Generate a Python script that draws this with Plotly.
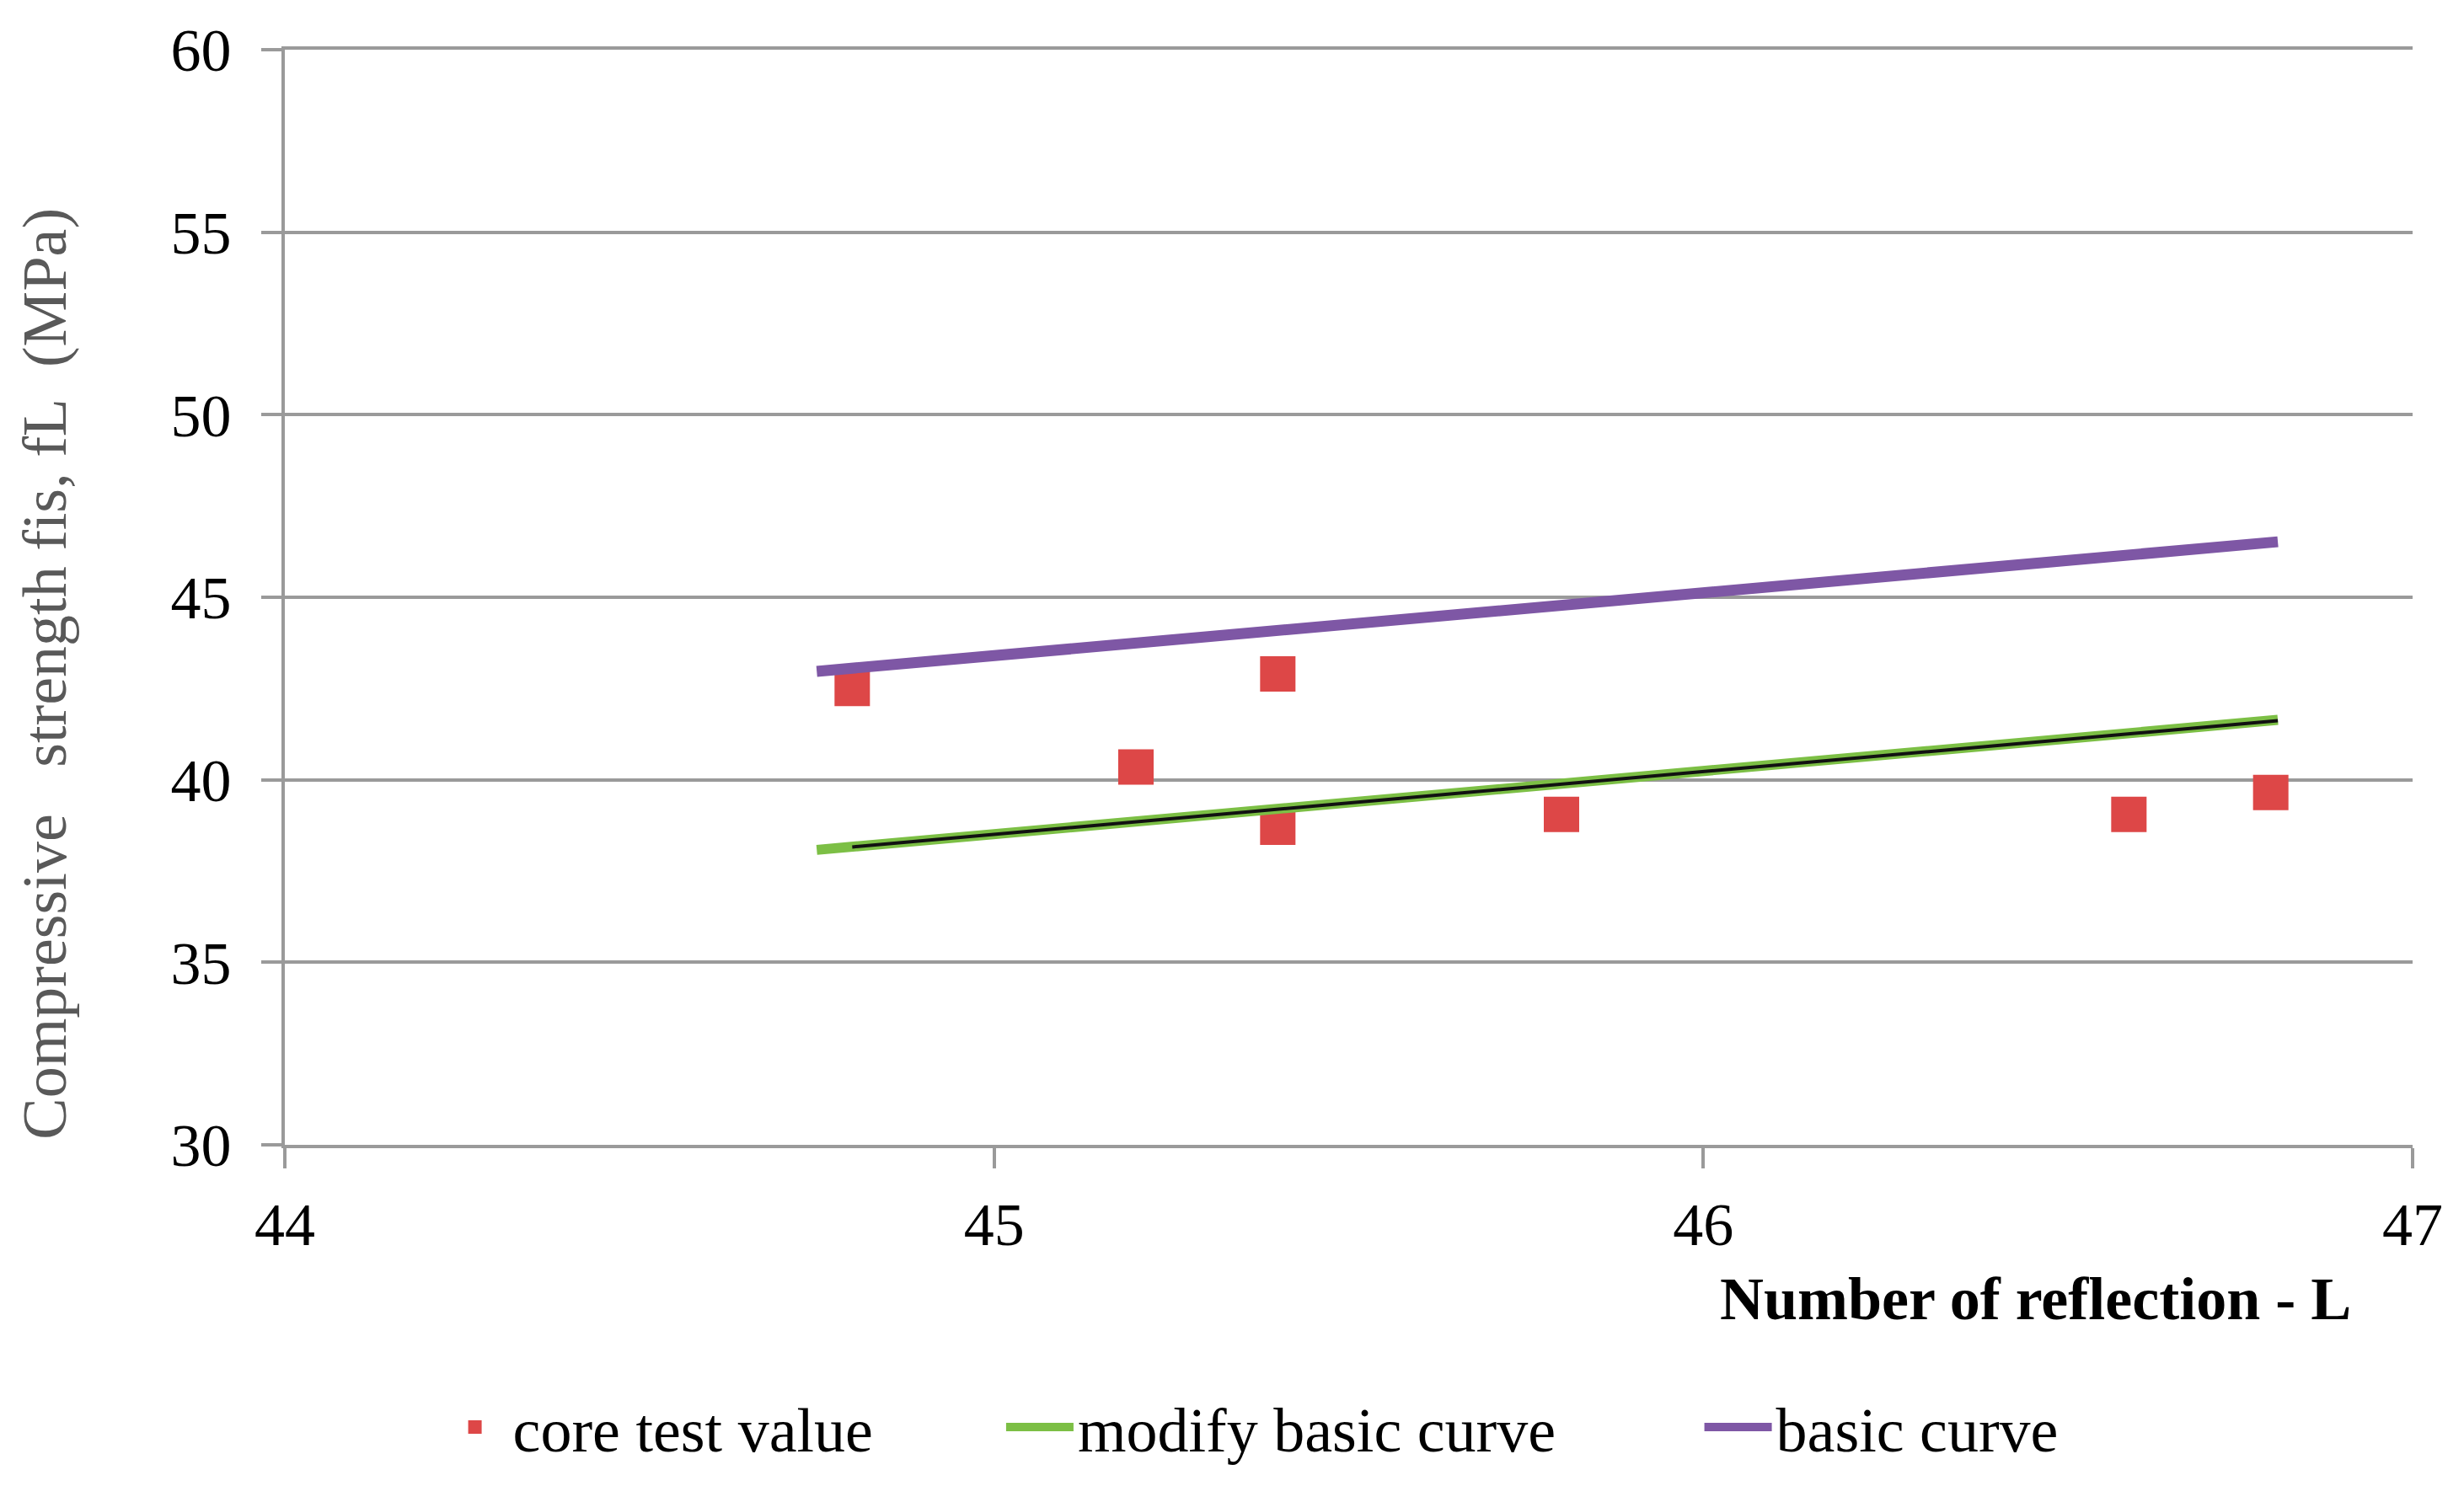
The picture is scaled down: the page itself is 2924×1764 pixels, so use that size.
import plotly.graph_objects as go

# Data
core_x = [44.8, 45.2, 45.4, 45.4, 45.8, 46.6, 46.8]
core_y = [42.5, 40.35, 42.9, 38.7, 39.05, 39.05, 39.65]

modify_x = [44.75, 46.81]
modify_y = [38.08, 41.64]

fit_x = [44.8, 46.81]
fit_y = [38.16, 41.62]

basic_x = [44.75, 46.81]
basic_y = [42.97, 46.52]

x_ticks = [44, 45, 46, 47]
y_ticks = [30, 35, 40, 45, 50, 55, 60]

FONT = "Liberation Serif"
GRID = "#9a9a9a"
PAD1 = "\u00a0" * 8
PAD2 = "\u00a0" * 9

fig = go.Figure()
fig.add_trace(go.Scatter(x=core_x, y=core_y, mode="markers", name="core test value" + PAD1,
                         marker=dict(symbol="square", size=42, color="#DD4747")))
fig.add_trace(go.Scatter(x=modify_x, y=modify_y, mode="lines", name="modify basic curve" + PAD2,
                         line=dict(color="#7CBF45", width=12)))
fig.add_trace(go.Scatter(x=fit_x, y=fit_y, mode="lines", showlegend=False,
                         line=dict(color="#111111", width=4), hoverinfo="skip"))
fig.add_trace(go.Scatter(x=basic_x, y=basic_y, mode="lines", name="basic curve",
                         line=dict(color="#7E57A5", width=13)))

fig.update_layout(
    width=2924, height=1764,
    margin=dict(l=330, r=69, t=43, b=413),
    paper_bgcolor="white", plot_bgcolor="white",
    font=dict(family=FONT, size=64, color="black"),
    showlegend=True,
    legend=dict(orientation="h", x=0.4535, xanchor="center", y=-0.258, yanchor="middle",
                font=dict(family=FONT, size=74, color="black"), itemwidth=80,
                tracegroupgap=0, traceorder="normal"),
    xaxis=dict(range=[44, 47], tickvals=x_ticks, ticktext=[str(v) for v in x_ticks],
               showgrid=False, zeroline=False, showline=True, linecolor=GRID, linewidth=4,
               mirror=True,
               ticks="outside", ticklen=24, tickwidth=4, tickcolor=GRID,
               ticklabelstandoff=5, tickfont=dict(family=FONT, size=72, color="black")),
    yaxis=dict(range=[30, 60], tickvals=y_ticks, ticktext=[str(v) for v in y_ticks],
               showgrid=True, gridcolor=GRID, gridwidth=4, zeroline=False,
               showline=True, linecolor=GRID, linewidth=4,
               ticks="outside", ticklen=24, tickwidth=4, tickcolor=GRID,
               ticklabelstandoff=21, tickfont=dict(family=FONT, size=72, color="black")),
    annotations=[
        dict(text="<b>Number of reflection - L</b>", xref="paper", yref="paper",
             x=0.972, y=-0.1407, xanchor="right", yanchor="middle", showarrow=False,
             font=dict(family=FONT, size=72, color="black")),
        dict(text="Compressive\u00a0\u00a0\u00a0strength fis, fL\u00a0\u00a0(MPa)",
             xref="paper", yref="paper", x=-0.113, y=0.43, xanchor="center", yanchor="middle",
             textangle=-90, showarrow=False,
             font=dict(family=FONT, size=74, color="#595959")),
    ],
)

fig.write_html("out.html")
